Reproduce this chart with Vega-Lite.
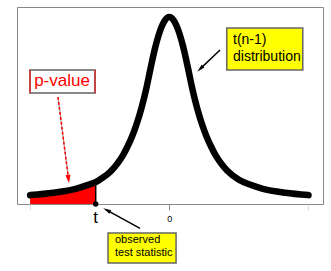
{
  "$schema": "https://vega.github.io/schema/vega-lite/v6.json",
  "width": 306,
  "height": 197,
  "autosize": "none",
  "padding": {"left": 17, "top": 7, "right": 8, "bottom": 67},
  "background": "white",
  "config": {"view": {"stroke": "#888", "strokeWidth": 1}, "font": "Liberation Sans"},
  "datasets": {
    "curve": [
      {"x": -3.0, "y": 0.019}, {"x": -2.5, "y": 0.024}, {"x": -2.0, "y": 0.033}, {"x": -1.75, "y": 0.041},
      {"x": -1.586, "y": 0.047}, {"x": -1.5, "y": 0.052}, {"x": -1.25, "y": 0.071}, {"x": -1.1, "y": 0.089},
      {"x": -1.0, "y": 0.104}, {"x": -0.9, "y": 0.123}, {"x": -0.8, "y": 0.145}, {"x": -0.7, "y": 0.172},
      {"x": -0.6, "y": 0.205}, {"x": -0.5, "y": 0.245}, {"x": -0.4, "y": 0.292}, {"x": -0.3, "y": 0.336},
      {"x": -0.2, "y": 0.370}, {"x": -0.1, "y": 0.392}, {"x": 0.0, "y": 0.400},
      {"x": 0.1, "y": 0.392}, {"x": 0.2, "y": 0.370}, {"x": 0.3, "y": 0.336}, {"x": 0.4, "y": 0.292},
      {"x": 0.5, "y": 0.245}, {"x": 0.6, "y": 0.205}, {"x": 0.7, "y": 0.172}, {"x": 0.8, "y": 0.145},
      {"x": 0.9, "y": 0.123}, {"x": 1.0, "y": 0.104}, {"x": 1.1, "y": 0.089}, {"x": 1.25, "y": 0.071},
      {"x": 1.5, "y": 0.052}, {"x": 1.75, "y": 0.041}, {"x": 2.0, "y": 0.033}, {"x": 2.5, "y": 0.024},
      {"x": 3.0, "y": 0.019}
    ],
    "tail": [
      {"x": -3.0, "y": 0.019}, {"x": -2.5, "y": 0.024}, {"x": -2.0, "y": 0.033}, {"x": -1.75, "y": 0.041},
      {"x": -1.586, "y": 0.047}
    ],
    "tstat": [{"x": -1.586, "y": 0, "y2": 0.047}],
    "pbox": [{"x": -3.002, "x2": -1.601, "y": 0.2866, "y2": 0.2374}],
    "pboxsides": [{"x": -3.002, "y": 0.2866, "y2": 0.2374}, {"x": -1.601, "y": 0.2866, "y2": 0.2374}],
    "ybox": [
      {"x": 1.239, "x2": 2.877, "y": 0.3765, "y2": 0.2866},
      {"x": -1.321, "x2": 0.146, "y": -0.062, "y2": -0.1262}
    ],
    "labels": [
      {"x": -2.312, "y": 0.263, "label": "p-value", "group": "pval"},
      {"x": -1.586, "y": -0.030, "label": "t", "group": "t"},
      {"x": 1.373, "y": 0.3508, "label": "t(n-1)", "group": "dist"},
      {"x": 1.373, "y": 0.3155, "label": "distribution", "group": "dist"},
      {"x": -1.17, "y": -0.077, "label": "observed", "group": "obs"},
      {"x": -1.17, "y": -0.1055, "label": "test statistic", "group": "obs"}
    ],
    "pshaft": [{"x": -2.399, "y": 0.2289, "x2": -2.172, "y2": 0.0535}],
    "bshafts": [
      {"x": 1.093, "y": 0.3294, "x2": 0.665, "y2": 0.289},
      {"x": -0.631, "y": -0.052, "x2": -1.347, "y2": -0.01326}
    ],
    "heads": [
      {"x": -2.172, "y": 0.0535, "angle": 172.7, "group": "red"},
      {"x": 0.665, "y": 0.289, "angle": 225.4, "group": "black"},
      {"x": -1.347, "y": -0.01326, "angle": 298.6, "group": "black"}
    ]
  },
  "encoding": {
    "x": {
      "field": "x", "type": "quantitative",
      "scale": {"domain": [-3.282, 3.3125], "nice": false, "zero": false},
      "axis": {
        "values": [-3, 0, 3], "title": null, "grid": false, "domain": false,
        "tickSize": 6,
        "tickColor": {"condition": {"test": "datum.value == 0", "value": "#888"}, "value": "#ddd"},
        "labelExpr": "datum.value == 0 ? '0' : ''",
        "labelFontSize": 9, "labelColor": "#000", "labelPadding": 4, "labelFont": "Liberation Sans"
      }
    },
    "y": {
      "field": "y", "type": "quantitative",
      "scale": {"domain": [0, 0.4214], "nice": false, "zero": false},
      "axis": null
    }
  },
  "layer": [
    {
      "data": {"name": "tail"},
      "mark": {"type": "area", "color": "#ff0000", "interpolate": "monotone"},
      "encoding": {"y2": {"datum": 0}}
    },
    {
      "data": {"name": "tstat"},
      "mark": {"type": "rule", "color": "#000", "strokeWidth": 1.5},
      "encoding": {"y2": {"field": "y2"}}
    },
    {
      "data": {"name": "curve"},
      "mark": {"type": "line", "color": "#000", "strokeWidth": 6.5, "interpolate": "monotone", "strokeCap": "round", "strokeJoin": "round"},
      "encoding": {}
    },
    {
      "data": {"name": "tstat"},
      "mark": {"type": "point", "filled": true, "color": "#000", "size": 30, "opacity": 1},
      "encoding": {}
    },
    {
      "data": {"name": "pbox"},
      "mark": {"type": "rect", "fill": "#fff", "stroke": "#888", "strokeWidth": 2},
      "encoding": {"x2": {"field": "x2"}, "y2": {"field": "y2"}}
    },
    {
      "data": {"name": "pboxsides"},
      "mark": {"type": "rule", "color": "#ff0000", "strokeWidth": 1},
      "encoding": {"y2": {"field": "y2"}}
    },
    {
      "data": {"name": "ybox"},
      "mark": {"type": "rect", "fill": "#ffff00", "stroke": "#666", "strokeWidth": 1.5},
      "encoding": {"x2": {"field": "x2"}, "y2": {"field": "y2"}}
    },
    {
      "data": {"name": "labels"},
      "transform": [{"filter": "datum.group == 'pval'"}],
      "mark": {"type": "text", "color": "#ff0000", "fontSize": 17, "align": "center", "baseline": "middle"},
      "encoding": {"text": {"field": "label"}}
    },
    {
      "data": {"name": "labels"},
      "transform": [{"filter": "datum.group == 't'"}],
      "mark": {"type": "text", "color": "#000", "fontSize": 17, "align": "center", "baseline": "middle"},
      "encoding": {"text": {"field": "label"}}
    },
    {
      "data": {"name": "labels"},
      "transform": [{"filter": "datum.group == 'dist'"}],
      "mark": {"type": "text", "color": "#000", "fontSize": 14, "align": "left", "baseline": "middle"},
      "encoding": {"text": {"field": "label"}}
    },
    {
      "data": {"name": "labels"},
      "transform": [{"filter": "datum.group == 'obs'"}],
      "mark": {"type": "text", "color": "#000", "fontSize": 11, "align": "left", "baseline": "middle"},
      "encoding": {"text": {"field": "label"}}
    },
    {
      "data": {"name": "pshaft"},
      "mark": {"type": "rule", "color": "#999", "strokeWidth": 1},
      "encoding": {"x2": {"field": "x2"}, "y2": {"field": "y2"}}
    },
    {
      "data": {"name": "pshaft"},
      "mark": {"type": "rule", "color": "#ff0000", "strokeWidth": 1.5, "strokeDash": [3, 2]},
      "encoding": {"x2": {"field": "x2"}, "y2": {"field": "y2"}}
    },
    {
      "data": {"name": "bshafts"},
      "mark": {"type": "rule", "color": "#000", "strokeWidth": 1.5},
      "encoding": {"x2": {"field": "x2"}, "y2": {"field": "y2"}}
    },
    {
      "data": {"name": "heads"},
      "transform": [{"filter": "datum.group == 'red'"}],
      "mark": {"type": "point", "shape": "M0,-1L0.6,1L-0.6,1Z", "filled": true, "color": "#ff0000", "size": 70, "opacity": 1},
      "encoding": {"angle": {"field": "angle", "type": "quantitative", "scale": null}}
    },
    {
      "data": {"name": "heads"},
      "transform": [{"filter": "datum.group == 'black'"}],
      "mark": {"type": "point", "shape": "M0,-1L0.5,1L-0.5,1Z", "filled": true, "color": "#000", "size": 64, "opacity": 1},
      "encoding": {"angle": {"field": "angle", "type": "quantitative", "scale": null}}
    }
  ]
}
